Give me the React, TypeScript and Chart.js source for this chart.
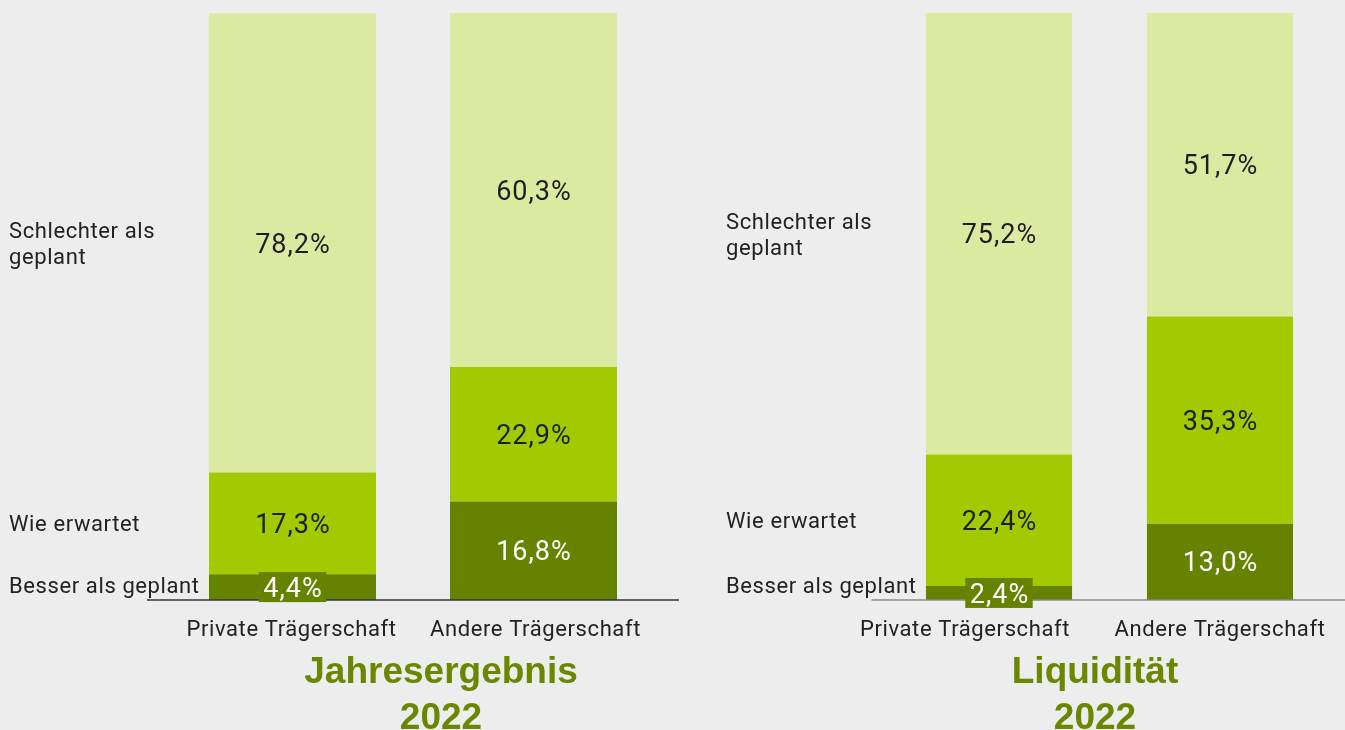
import React, { useEffect, useRef } from "react";
import { Chart, registerables } from "chart.js";

Chart.register(...registerables);

// ---- data ----
const categories = ["Private Trägerschaft", "Andere Trägerschaft"];
const seriesNames = ["Besser als geplant", "Wie erwartet", "Schlechter als geplant"];
const seriesLabelLines = [["Besser als geplant"], ["Wie erwartet"], ["Schlechter als", "geplant"]];

const jahresBesser = [4.4, 16.8];
const jahresWie = [17.3, 22.9];
const jahresSchlechter = [78.2, 60.3];

const liqBesser = [2.4, 13.0];
const liqWie = [22.4, 35.3];
const liqSchlechter = [75.2, 51.7];

const titleJahres = ["Jahresergebnis", "2022"];
const titleLiq = ["Liquidität", "2022"];

// ---- styles ----
const BG = "#ecedec";
const segColors = ["#668300", "#a3c900", "#dce9a0"];
const valueTextColors = ["#ffffff", "#1e1e1e", "#1e1e1e"];
const TEXT = "#222222";
const TITLE_COLOR = "#6b8700";

const fmt = (v: number) => v.toFixed(1).replace(".", ",") + "%";

const decorPlugin = {
  id: "panelDecor",
  afterDatasetsDraw(chart: any, _args: any, opts: any) {
    const ctx: CanvasRenderingContext2D = chart.ctx;
    const area = chart.chartArea;
    const xs = chart.scales.x;
    ctx.save();

    // axis base line
    ctx.strokeStyle = opts.lineColor;
    ctx.lineWidth = 1.5;
    ctx.beginPath();
    ctx.moveTo(area.left - opts.lineLeft, area.bottom);
    ctx.lineTo(area.right + opts.lineRight, area.bottom);
    ctx.stroke();

    // value labels with background boxes
    const vSize = 27;
    ctx.font = `${vSize}px Roboto`;
    (ctx as any).letterSpacing = "1px";
    ctx.textAlign = "center";
    ctx.textBaseline = "alphabetic";
    chart.data.datasets.forEach((ds: any, di: number) => {
      const meta = chart.getDatasetMeta(di);
      meta.data.forEach((bar: any, i: number) => {
        const text = fmt(ds.data[i]);
        const cx = bar.x;
        const cy = (bar.y + bar.base) / 2;
        const w = ctx.measureText(text).width + 8;
        const h = 30;
        ctx.fillStyle = ds.backgroundColor;
        ctx.fillRect(cx - w / 2, cy - h / 2, w, h);
        ctx.fillStyle = valueTextColors[di];
        ctx.fillText(text, cx + 0.5, cy + vSize * 0.711 / 2);
      });
    });

    // series labels at left, aligned to the first bar's segments
    const sSize = 22;
    ctx.font = `${sSize}px Roboto`;
    (ctx as any).letterSpacing = "0.6px";
    ctx.textAlign = "left";
    ctx.fillStyle = TEXT;
    seriesLabelLines.forEach((lines, di) => {
      const bar = chart.getDatasetMeta(di).data[0];
      let cy = (bar.y + bar.base) / 2;
      cy = Math.min(cy, area.bottom - 15);
      const lh = 26;
      const top = cy - ((lines.length - 1) * lh) / 2;
      lines.forEach((ln, k) => {
        ctx.fillText(ln, area.left - opts.seriesOffset, top + k * lh + sSize * 0.711 / 2);
      });
    });

    // category labels
    ctx.textAlign = "center";
    categories.forEach((c, i) => {
      const x = xs.getPixelForValue(i) + (opts.catShift[i] || 0);
      ctx.fillText(c, x, area.bottom + 36);
    });

    // panel title
    (ctx as any).letterSpacing = "0px";
    ctx.font = 'bold 37px "Liberation Sans", Arial, sans-serif';
    ctx.fillStyle = TITLE_COLOR;
    const tx = (area.left + area.right) / 2 + opts.titleDx;
    opts.title.forEach((t: string, k: number) => {
      ctx.fillText(t, tx, area.bottom + 83 + k * 46);
    });

    ctx.restore();
  },
};

function makeConfig(
  series: number[][],
  barPct: number,
  padLeft: number,
  padRight: number,
  decor: any
): any {
  return {
    type: "bar",
    data: {
      labels: categories,
      datasets: series.map((d, i) => ({
        label: seriesNames[i],
        data: d,
        backgroundColor: segColors[i],
        borderWidth: 0,
        categoryPercentage: 1,
        barPercentage: barPct,
      })),
    },
    options: {
      responsive: false,
      animation: false,
      devicePixelRatio: 1,
      layout: { padding: { top: 13, bottom: 130, left: padLeft, right: padRight } },
      scales: {
        x: { stacked: true, display: false },
        y: { stacked: true, display: false, min: 0, max: 100 },
      },
      plugins: {
        legend: { display: false },
        tooltip: { enabled: false },
        title: { display: false },
        panelDecor: decor,
      },
    },
    plugins: [decorPlugin],
  };
}

function Panel(props: { cfg: any; left: number; width: number }) {
  const ref = useRef<HTMLCanvasElement | null>(null);
  useEffect(() => {
    if (!ref.current) return;
    const chart = new Chart(ref.current, props.cfg);
    return () => chart.destroy();
  }, []);
  return (
    <canvas
      ref={ref}
      width={props.width}
      height={730}
      style={{ position: "absolute", left: props.left, top: 0, width: props.width, height: 730 }}
    />
  );
}

export default function App() {
  const cfg1 = makeConfig([jahresBesser, jahresWie, jahresSchlechter], 0.693, 172, 46, {
    lineColor: "#333333",
    lineLeft: 25,
    lineRight: 25,
    seriesOffset: 163,
    catShift: [-1, 2],
    titleDx: 28,
    title: titleJahres,
  });
  const cfg2 = makeConfig([liqBesser, liqWie, liqSchlechter], 0.661, 188.5, 14.5, {
    lineColor: "#8a8a8a",
    lineLeft: 17,
    lineRight: 15,
    seriesOffset: 162.5,
    catShift: [-34, 0],
    titleDx: -14.5,
    title: titleLiq,
  });
  return (
    <div style={{ position: "fixed", left: 0, top: 0, width: 1345, height: 730, background: BG, overflow: "hidden" }}>
      <Panel cfg={cfg1} left={0} width={700} />
      <Panel cfg={cfg2} left={700} width={645} />
    </div>
  );
}
